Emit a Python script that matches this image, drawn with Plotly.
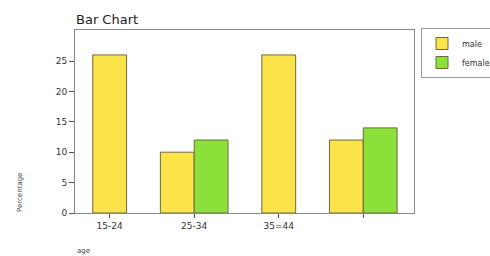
import plotly.graph_objects as go

categories = ["15-24", "25-34", "35=44", ""]
male = [26, 10, 26, 12]
female = [None, 12, None, 14]

yellow = "#FBE34A"
green = "#8BE03A"
edge = "#6E6A3A"

xpos = list(range(len(categories)))
bw = 0.40
male_offset = [(-bw / 2 if f is None else -bw) for f in female]

W, H = 490, 256
L, R, T, B = 75, 76, 30, 43
pw, ph = W - L - R, H - T - B


def px2paper(px, py):
    return (px - L) / pw, (H - B - py) / ph


fig = go.Figure()
fig.add_trace(go.Bar(
    x=xpos, y=male, name="male", width=bw, offset=male_offset,
    marker=dict(color=yellow, line=dict(color=edge, width=1)),
))
fig.add_trace(go.Bar(
    x=xpos, y=female, name="female", width=bw, offset=0,
    marker=dict(color=green, line=dict(color=edge, width=1)),
))

lx, ly = px2paper(421, 28)
ax, ay = px2paper(20, 192)
gx, gy = px2paper(83, 251)

fig.update_layout(
    width=W, height=H,
    margin=dict(l=L, r=R, t=T, b=B, autoexpand=False),
    paper_bgcolor="white", plot_bgcolor="white",
    barmode="overlay",
    showlegend=True,
    font=dict(family="DejaVu Sans", size=9, color="#333333"),
    title=dict(text="Bar Chart", x=76 / W, xanchor="left", y=1 - 19 / H, yanchor="middle",
               font=dict(family="DejaVu Sans", size=13, color="#222222")),
    legend=dict(x=lx, xanchor="left", y=ly, yanchor="top",
                bordercolor="#999999", borderwidth=1, bgcolor="white",
                font=dict(size=8, color="#333333"), itemwidth=30,
                tracegroupgap=0),
    xaxis=dict(
        range=[-0.41, 3.6], tickmode="array", tickvals=xpos, ticktext=categories,
        showgrid=False, zeroline=False, showline=True, linecolor="#888888", linewidth=1,
        mirror=True, ticks="outside", ticklen=4, tickcolor="#555555",
        tickfont=dict(size=9, color="#333333"),
    ),
    yaxis=dict(
        range=[0, 30.1], tickvals=[0, 5, 10, 15, 20, 25],
        showgrid=False, zeroline=False, showline=True, linecolor="#888888", linewidth=1,
        mirror=True, ticks="outside", ticklen=5, tickcolor="#555555",
        tickfont=dict(size=9, color="#333333"),
    ),
    annotations=[
        dict(text="Percentage", x=ax, y=ay, xref="paper", yref="paper", showarrow=False,
             xanchor="center", yanchor="middle",
             textangle=-90, font=dict(size=7, color="#444444")),
        dict(text="age", x=gx, y=gy, xref="paper", yref="paper", showarrow=False,
             xanchor="center", yanchor="middle",
             font=dict(size=7, color="#444444")),
    ],
)

fig.write_html("out.html", config={"displayModeBar": False},
               post_script="document.body.style.margin='0px';")
